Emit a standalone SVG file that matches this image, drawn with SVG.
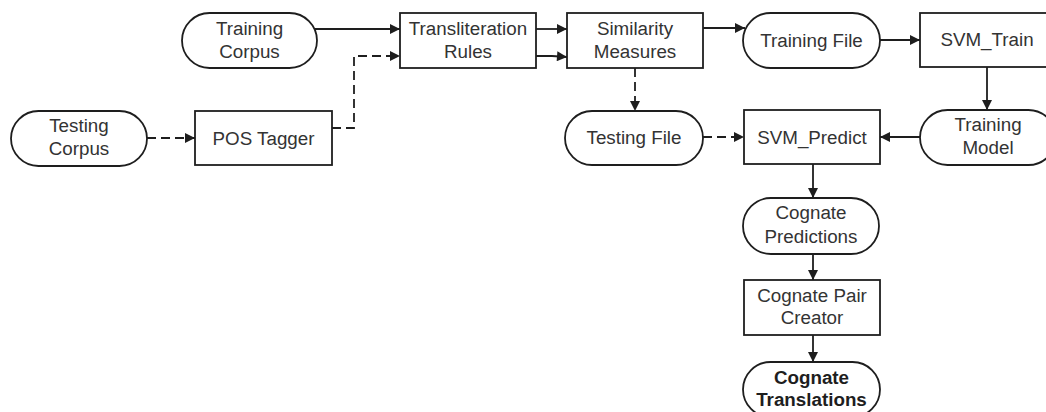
<svg xmlns="http://www.w3.org/2000/svg" width="1046" height="412" viewBox="0 0 1046 412">
  <style>
    .shape { fill: #ffffff; stroke: #1e1e1e; stroke-width: 1.8; }
    .label { font-family: "Liberation Sans", Arial, sans-serif; font-size: 18.8px; fill: #333333; text-anchor: middle; }
    .bold { font-weight: bold; fill: #1e1e1e; }
    .edge { fill: none; stroke: #1e1e1e; stroke-width: 1.8; }
    .dashed { stroke-dasharray: 9 5; }
  </style>
  <defs>
    <marker id="arrow" viewBox="0 0 10 10" refX="10" refY="5" markerWidth="12" markerHeight="10" markerUnits="userSpaceOnUse" orient="auto">
      <path d="M0,0 L10,5 L0,10 Z" fill="#1e1e1e"/>
    </marker>
  </defs>
  <rect width="1046" height="412" fill="#ffffff"/>

  <!-- connectors -->
  <g id="connectors">
    <line class="edge" x1="314" y1="29" x2="400" y2="29" marker-end="url(#arrow)"/>
    <line class="edge" x1="536" y1="29" x2="567" y2="29" marker-end="url(#arrow)"/>
    <polyline class="edge" points="536,56 552,56 567,57" marker-end="url(#arrow)"/>
    <line class="edge" x1="703" y1="28" x2="745" y2="28" marker-end="url(#arrow)"/>
    <line class="edge" x1="880" y1="40" x2="920" y2="40" marker-end="url(#arrow)"/>
    <line class="edge" x1="987" y1="67" x2="987" y2="110" marker-end="url(#arrow)"/>
    <line class="edge" x1="920" y1="137" x2="880" y2="137" marker-end="url(#arrow)"/>
    <line class="edge dashed" x1="703" y1="137" x2="744" y2="137" marker-end="url(#arrow)"/>
    <line class="edge dashed" x1="635" y1="68" x2="635" y2="111" marker-end="url(#arrow)"/>
    <line class="edge" x1="813" y1="164" x2="813" y2="198" marker-end="url(#arrow)"/>
    <line class="edge" x1="813" y1="254" x2="813" y2="280" marker-end="url(#arrow)"/>
    <line class="edge" x1="813" y1="335" x2="813" y2="362" marker-end="url(#arrow)"/>
    <line class="edge dashed" x1="147" y1="138" x2="195" y2="138" marker-end="url(#arrow)"/>
    <polyline class="edge dashed" points="332,128 354,128 354,56 400,56" marker-end="url(#arrow)"/>
  </g>

  <!-- nodes -->
  <g id="training-corpus">
    <rect class="shape" x="182" y="13" width="135" height="55" rx="27.5"/>
    <text class="label" x="249.5" y="34.5">Training</text>
    <text class="label" x="249.5" y="57.5">Corpus</text>
  </g>
  <g id="transliteration-rules">
    <rect class="shape" x="400" y="13" width="136" height="55"/>
    <text class="label" x="468" y="34.5">Transliteration</text>
    <text class="label" x="468" y="57.5">Rules</text>
  </g>
  <g id="similarity-measures">
    <rect class="shape" x="567" y="13" width="136" height="55"/>
    <text class="label" x="635" y="34.5">Similarity</text>
    <text class="label" x="635" y="57.5">Measures</text>
  </g>
  <g id="training-file">
    <rect class="shape" x="743" y="13" width="137" height="55" rx="27.5"/>
    <text class="label" x="811.5" y="46.5">Training File</text>
  </g>
  <g id="svm-train">
    <rect class="shape" x="920" y="13" width="136" height="54"/>
    <text class="label" x="987" y="46">SVM_Train</text>
  </g>
  <g id="training-model">
    <rect class="shape" x="920" y="110" width="136" height="55" rx="27.5"/>
    <text class="label" x="988" y="131">Training</text>
    <text class="label" x="988" y="154">Model</text>
  </g>
  <g id="testing-corpus">
    <rect class="shape" x="11" y="111" width="136" height="55" rx="27.5"/>
    <text class="label" x="79" y="132">Testing</text>
    <text class="label" x="79" y="155">Corpus</text>
  </g>
  <g id="pos-tagger">
    <rect class="shape" x="195" y="111" width="137" height="54"/>
    <text class="label" x="263.5" y="144.5">POS Tagger</text>
  </g>
  <g id="testing-file">
    <rect class="shape" x="565" y="111" width="138" height="54" rx="27"/>
    <text class="label" x="634" y="144">Testing File</text>
  </g>
  <g id="svm-predict">
    <rect class="shape" x="744" y="110" width="136" height="54"/>
    <text class="label" x="812" y="143.5">SVM_Predict</text>
  </g>
  <g id="cognate-predictions">
    <rect class="shape" x="743" y="198" width="136" height="56" rx="28"/>
    <text class="label" x="811" y="219">Cognate</text>
    <text class="label" x="811" y="243">Predictions</text>
  </g>
  <g id="cognate-pair-creator">
    <rect class="shape" x="744" y="280" width="136" height="55"/>
    <text class="label" x="812" y="302">Cognate Pair</text>
    <text class="label" x="812" y="324">Creator</text>
  </g>
  <g id="cognate-translations">
    <rect class="shape" x="743" y="362" width="137" height="55" rx="27.5"/>
    <text class="label bold" x="811.5" y="384">Cognate</text>
    <text class="label bold" x="811.5" y="406">Translations</text>
  </g>
</svg>
